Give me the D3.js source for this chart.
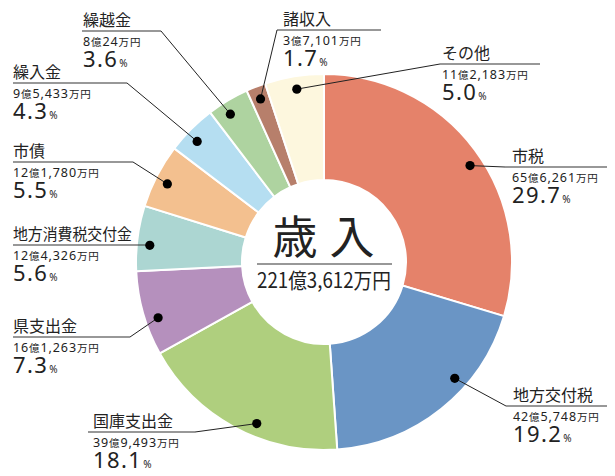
<!DOCTYPE html>
<html>
<head>
<meta charset="utf-8">
<script src="https://cdn.jsdelivr.net/npm/d3@7"></script>
<style>
  body { margin: 0; background: #fff; }
  svg { font-family: "Noto Sans CJK JP", "Noto Sans", sans-serif; }
  .num { font-family: "Noto Sans", "Noto Sans CJK JP", sans-serif; }
</style>
</head>
<body>
<svg id="chart" width="615" height="476"></svg>
<script>
// 歳入の内訳 (万円)
var names = ["市税", "地方交付税", "国庫支出金", "県支出金", "地方消費税交付金", "市債", "繰入金", "繰越金", "諸収入", "その他"];
var amounts = [656261, 425748, 399493, 161263, 124326, 121780, 95433, 80024, 37101, 112183];
var percents = [29.7, 19.2, 18.1, 7.3, 5.6, 5.5, 4.3, 3.6, 1.7, 5.0];
var colors = ["#e5826a", "#6a95c5", "#afcf7e", "#b590bd", "#acd6d2", "#f3c08f", "#b5def1", "#aed3a0", "#b77f6b", "#fdf7de"];
var title = ["歳", "入"];

// label layout: text x, underline y, underline x0, x1, which end the leader joins, dot position in slice
var labelX = [512, 513, 93, 13, 13, 13, 13, 83, 283, 442];
var lineY = [167, 406, 432, 337, 245, 162, 83, 31, 30, 64];
var lineX0 = [505, 506, 88, 13, 13, 13, 13, 82, 277, 440];
var lineX1 = [607, 607, 195, 130, 153, 133, 127, 161, 381, 540];
var joinAt = ["L", "L", "R", "R", "R", "R", "R", "R", "L", "L"];
var dotFrac = [0.53, 0.36, 0.41, 0.4, 0.41, 0.46, 0.41, 0.38, 0.5, 0.51];

var cx = 324, cy = 262, outerR = 188, innerR = 82, dotR = 175;

var svg = d3.select("#chart");
var g = svg.append("g").attr("transform", "translate(" + cx + "," + cy + ")");

var pie = d3.pie().sort(null).value(function(d) { return d; });
var arcs = pie(amounts);
var arc = d3.arc().innerRadius(innerR).outerRadius(outerR);

g.selectAll("path.slice")
  .data(arcs)
  .enter().append("path")
  .attr("class", "slice")
  .attr("d", arc)
  .attr("fill", function(d, i) { return colors[i]; })
  .attr("stroke", "#fff")
  .attr("stroke-width", 2);

var fmt = d3.format(",");
function okuParts(v) {
  var oku = Math.floor(v / 10000), man = v % 10000;
  return [String(oku), fmt(man)];
}

arcs.forEach(function(a, i) {
  var ang = a.startAngle + (a.endAngle - a.startAngle) * dotFrac[i];
  var dx = cx + Math.sin(ang) * dotR, dy = cy - Math.cos(ang) * dotR;
  var jx = joinAt[i] === "L" ? lineX0[i] : lineX1[i];
  var uy = lineY[i];

  svg.append("line")
    .attr("x1", dx).attr("y1", dy).attr("x2", jx).attr("y2", uy)
    .attr("stroke", "#222").attr("stroke-width", 1);
  svg.append("line")
    .attr("x1", lineX0[i]).attr("x2", lineX1[i]).attr("y1", uy).attr("y2", uy)
    .attr("stroke", "#333").attr("stroke-width", 1.2);
  svg.append("circle").attr("cx", dx).attr("cy", dy).attr("r", 4.6).attr("fill", "#000");

  var nm = svg.append("text")
    .attr("x", labelX[i]).attr("y", uy - 5)
    .attr("font-size", 16).attr("fill", "#222")
    .text(names[i]);
  if (names[i].length > 6) nm.attr("textLength", 119).attr("lengthAdjust", "spacingAndGlyphs");

  var p = okuParts(amounts[i]);
  var am = svg.append("text").attr("class", "num")
    .attr("x", labelX[i]).attr("y", uy + 15).attr("fill", "#222")
    .attr("letter-spacing", 0.9);
  am.append("tspan").attr("font-size", 12.5).text(p[0]);
  am.append("tspan").attr("font-size", 10.5).text("億");
  am.append("tspan").attr("font-size", 12.5).text(p[1]);
  am.append("tspan").attr("font-size", 10.5).text("万円");

  var pc = svg.append("text").attr("class", "num")
    .attr("x", labelX[i]).attr("y", uy + 36).attr("fill", "#222");
  pc.append("tspan").attr("font-size", 22).attr("letter-spacing", 1.4).text(percents[i].toFixed(1));
  pc.append("tspan").attr("font-size", 10).attr("dx", 1).text("%");
});

// center title
svg.append("text").attr("x", 295).attr("y", 254).attr("text-anchor", "middle")
  .attr("font-size", 45).attr("fill", "#222").text(title[0]);
svg.append("text").attr("x", 352).attr("y", 254).attr("text-anchor", "middle")
  .attr("font-size", 45).attr("fill", "#222").text(title[1]);
svg.append("line").attr("x1", 257).attr("x2", 392).attr("y1", 264).attr("y2", 264)
  .attr("stroke", "#333").attr("stroke-width", 1.2);

var total = okuParts(d3.sum(amounts));
svg.append("text").attr("x", 257).attr("y", 288)
  .attr("font-size", 21).attr("fill", "#222")
  .attr("textLength", 134).attr("lengthAdjust", "spacingAndGlyphs")
  .text(total[0] + "億" + total[1] + "万円");
</script>
</body>
</html>
